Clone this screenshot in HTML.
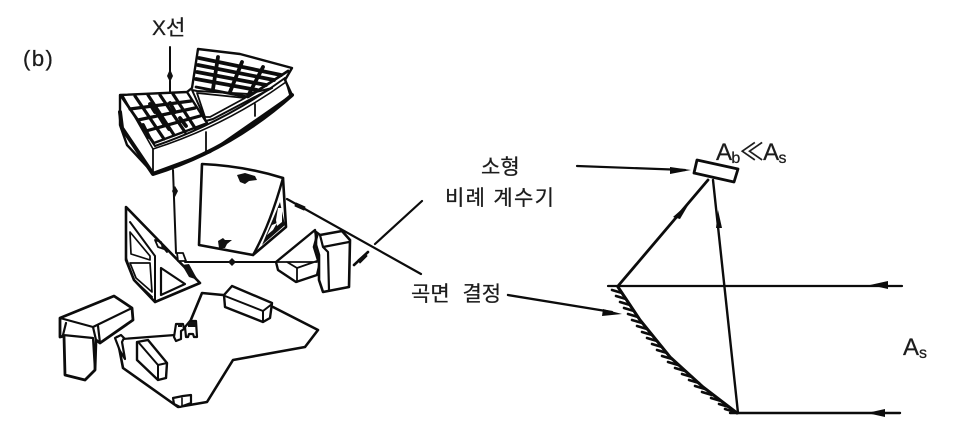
<!DOCTYPE html>
<html><head><meta charset="utf-8"><style>
html,body{margin:0;padding:0;background:#fff;width:954px;height:422px;overflow:hidden}
svg{display:block}
text{font-family:"Liberation Sans","Noto Sans CJK KR",sans-serif;fill:#1c1c1c;stroke:#1c1c1c;stroke-width:.25}
</style></head><body>
<svg width="954" height="422" viewBox="0 0 954 422" xmlns="http://www.w3.org/2000/svg">
<g fill="none" stroke="#0c0c0c" stroke-linejoin="round" stroke-linecap="round">
<!-- X ray lines -->
<path d="M170 47V92M173 170L176 253" stroke-width="2"/>
<g fill="#111" stroke="none"><path d="M170 69l3 7-3 6-3-6zM175 186l3 5-3 6-3-6z"/></g>
<!-- top device -->
<path d="M120 95L187 92L192 88L198 49L240 54L292 68L285 80L292 95L210 152L153 173L127 145L120 125Z" fill="#fff" stroke-width="2.4"/>
<path d="M120 95L155 146Q225 122 285 78" stroke-width="2"/>
<path d="M123 96L153 149Q225 126 286 82" stroke-width="1.6"/>
<path d="M153 149V172M206 132V152M255 104V116M285 78L290 95" stroke-width="1.8"/>
<path d="M120 112L122 128L153 174Q230 150 292 95" stroke-width="4"/>
<path d="M187 92L207 123" stroke-width="2.4"/>
<path d="M192 90L206 121L213 119L272 88L248 94L197 91Z" stroke-width="2"/>
<path d="M197 93L245 98L210 117L205 117Z" fill="#fff" stroke-width="1.8"/>
<!-- left cell grid -->
<g stroke-width="3.2">
<path d="M135 96L164 139M148 95L174 135M160 95L185 132M173 94L195 128"/>
<path d="M130 109L191 101M138 120L195 108M146 131L200 116"/>
<path d="M122 97L154 143L205 124" stroke-width="2.4"/>
<path d="M143 125l6 12M170 103l5 9M156 111l8 13M180 118l6 8M150 104l5 8M163 120l6 9" stroke-width="3.8"/>
</g>
<!-- right cell grid -->
<g stroke-width="3.8">
<path d="M199 58L281 75M198 65L274 80M197 72L266 85M196 79L257 90"/>
<path d="M218 57L213 89M242 62L230 92M263 67L248 96"/>
<path d="M196 87L248 97L288 71" stroke-width="2.8"/>
</g>
<!-- middle mirror -->
<path d="M202 164Q245 166 283 178L286 227L253 255L199 245Z" fill="#fff" stroke-width="2.6"/>
<path d="M283 178Q270 225 253 255" stroke-width="2.4"/>
<path d="M280 202L285 225L262 245Z" fill="#111" stroke="none"/>
<path d="M278 208l4 0 0 14-5 4-1-6zM272 225l5-2-4 7-6 5z" fill="#fff" stroke="none"/>
<path d="M237 175l8-2 10 3 2 4-8 1-4 3-5-2zM218 241l5-3 2 2 7 0-5 4-2 4-6 0z" fill="#111" stroke="none"/>
<!-- rear line -->
<path d="M287 199L421 274" stroke-width="2.2"/>
<path d="M368 252L354 265" stroke-width="2.6"/>
<path d="M422 201L375 244" stroke-width="2.2"/>
<path d="M296 203l9 4-1 3-9-4z" fill="#111" stroke-width="1"/>
<path d="M358 260l7-6 2 2-7 7z" fill="#111" stroke-width="1"/>
<!-- left mirror -->
<path d="M126 207L200 283L155 302L134 280L126 260Z" fill="#fff" stroke-width="2.6"/>
<path d="M130 222L155 256V302M126 258L134 280L152 297" stroke-width="2"/>
<path d="M161 268L185 284L161 295Z" stroke-width="2.2"/>
<path d="M130 232L150 256V260L131 254ZM130 263L150 263L152 292L136 278Z" stroke-width="1.7"/>
<path d="M155 240l6 2 3 7-6-2zM162 246l5 6" stroke-width="1.8"/>
<path d="M177 253h6l3 8h-8z" fill="#fff" stroke-width="1.8"/>
<path d="M182 265l7-1 6 11 3 5-9-3z" fill="#111" stroke="none"/>
<!-- beam -->
<path d="M185 262H317" stroke-width="2"/>
<path d="M228 262l4-4 4 4-4 4z" fill="#111" stroke="none"/>
<!-- right detector -->
<path d="M276 262L315 230L320 262L317 275L296 282L278 270Z" fill="#fff" stroke-width="2.4"/>
<path d="M287 262L297 268V282M297 268L317 261M276 262H317" stroke-width="1.8"/>
<path d="M316 232L320 235L342 231L350 240L349 287L323 292L319 280L319 255L316 245Z" fill="#fff" stroke-width="2.6"/>
<path d="M320 235L323 247L349 242M323 247L328 252L329 290" stroke-width="2.2"/>
<path d="M317 236L314 247L318 260" stroke-width="2.6"/>
<!-- lower left detector -->
<path d="M60 318L114 296L132 308L133 320L100 343L96 340L95 370L85 380L65 375L64 336L60 337Z" fill="#fff" stroke-width="2.8"/>
<path d="M60 318L93 327L132 308M66 323L63 335L93 338L95 370M93 327L96 340M98 326L100 343" stroke-width="2.2"/>
<!-- lower path -->
<path d="M117 337L123 368L178 407L207 402L233 360L305 347L318 330L273 307" stroke-width="2.6"/>
<path d="M223 295L202 293L190 322" stroke-width="2.6"/>
<path d="M122 339L175 335" stroke-width="2.2"/>
<path d="M115 338l6-3 3 3-2 4 3 17-5-8z" fill="#fff" stroke-width="2.2"/>
<!-- small boxes -->
<path d="M232 286L272 303L270 318L263 322L225 307L224 295Z" fill="#fff" stroke-width="2.4"/>
<path d="M225 296L263 311V322M263 311L272 304" stroke-width="2"/>
<path d="M148 340L167 363L166 378L158 380L137 360V342Z" fill="#fff" stroke-width="2.4"/>
<path d="M139 343L158 365V380M158 365L167 363" stroke-width="2"/>
<path d="M173 398L183 396L191 395V403L180 407L174 404Z" fill="#fff" stroke-width="2.2"/>
<path d="M182 398V406" stroke-width="1.6"/>
<!-- small optics -->
<path d="M176 324h7l1 5-3 2v8l-5 2-2-4zM190 321h6l1 16h-3l-1-3h-4l-1 3h-2l-1-10z" fill="#fff" stroke-width="2.2"/>
<path d="M188 322h8v5h-8zM178 323h4v4h-4z" fill="#111" stroke="none"/>
</g>
<!-- right diagram -->
<g fill="none" stroke="#0c0c0c" stroke-linecap="round" stroke-linejoin="round">
<path d="M697 160L738 169L734 182L694 173Z" fill="#fff" stroke-width="2.8"/>
<path d="M577 166L685 170" stroke-width="2.2"/>
<path d="M618 286L708 180" stroke-width="2.8"/>
<path d="M713 180L738 413" stroke-width="2.4"/>
<path d="M608 286H902" stroke-width="2.2"/>
<path d="M730 413H900" stroke-width="2.4"/>
<path d="M618 287L640 320L670 357L703 387L737 413" stroke-width="3"/>
<path d="M622 293l-10-3M626 299l-10-3M630 305l-10-3M634 311l-10-3M638 317l-10-3M642 323l-10-3M647 329l-10-3M652 335l-10-3M657 341l-10-3M662 347l-10-3M667 353l-10-3M672 359l-10-3M678 365l-10-3M685 371l-10-3M692 377l-10-3M699 383l-10-3M705 389l-10-3M712 395l-10-3M721 401l-10-3M729 407l-10-3M735 412l-10-3" stroke-width="2.6"/>
<path d="M508 295L612 312" stroke-width="2.4"/>
</g>
<g fill="#0c0c0c" stroke="none">
<path d="M670 167L691 170L670 174Z"/>
<path d="M673 217L690 202L680 219Z"/>
<path d="M716 228L718 210L722 228Z"/>
<path d="M870 285L888 281V289Z"/>
<path d="M867 413L885 409V417Z"/>
<path d="M603 309L622 314L602 316Z"/>
</g>
<!-- labels -->
<text x="152" y="35" font-size="21">X선</text>
<text x="23" y="66" font-size="22" letter-spacing="1.5">(b)</text>
<text x="481" y="174" font-size="21">소형</text>
<text x="445" y="205" font-size="21" letter-spacing="1.3">비례 계수기</text>
<text x="411" y="301" font-size="21" word-spacing="7">곡면 결정</text>
<text x="716" y="160" font-size="24" letter-spacing="-.6">A<tspan font-size="16" dy="3">b</tspan><tspan dy="-3">≪A</tspan><tspan font-size="16" dy="3">s</tspan></text>
<text x="903" y="355" font-size="24">A<tspan font-size="16" dy="3">s</tspan></text>
</svg>
</body></html>
